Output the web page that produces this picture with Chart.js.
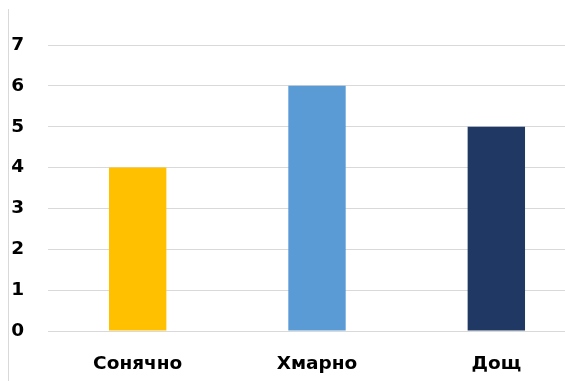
<!DOCTYPE html>
<html><head><meta charset="utf-8">
<script src="https://cdn.jsdelivr.net/npm/chart.js@4"></script>
<style>
html,body{margin:0;padding:0;background:#fff;overflow:hidden;width:565px;height:381px}
#frame{position:absolute;left:8px;top:9px;width:600px;height:372px;border-left:1px solid #d9d9d9}
#wrap{position:absolute;left:0;top:0;width:586px;height:381px}
</style></head><body>
<div id="frame"></div>
<div id="wrap"><canvas id="c" width="586" height="381"></canvas></div>
<script>
const categories = ["Сонячно", "Хмарно", "Дощ"];
const values = [4, 6, 5];
const barColors = ["#FFC000", "#5B9BD5", "#203864"];
const yTicks = [0, 1, 2, 3, 4, 5, 6, 7];

const font = { family: 'DejaVu Sans', size: 18.5, weight: 'bold' };
new Chart(document.getElementById('c'), {
  type: 'bar',
  data: { labels: categories, datasets: [{ data: values, backgroundColor: barColors, barPercentage: 1, categoryPercentage: 0.32 }] },
  options: {
    responsive: false, animation: false,
    layout: { padding: { left: 0, top: 45, right: 0, bottom: 0 } },
    plugins: { legend: { display: false }, tooltip: { enabled: false } },
    scales: {
      y: {
        min: 0, max: 7,
        afterBuildTicks: (s) => { s.ticks = yTicks.map(v => ({ value: v })); },
        afterFit: (s) => { s.width = 48; },
        grid: { color: '#d9d9d9', drawTicks: false, lineWidth: 1 },
        border: { display: false },
        ticks: { color: '#000', font: font, padding: 24 }
      },
      x: {
        afterFit: (s) => { s.height = 50; },
        grid: { display: false },
        border: { display: false },
        ticks: { color: '#000', font: font, padding: 14 }
      }
    }
  }
});
</script></body></html>
